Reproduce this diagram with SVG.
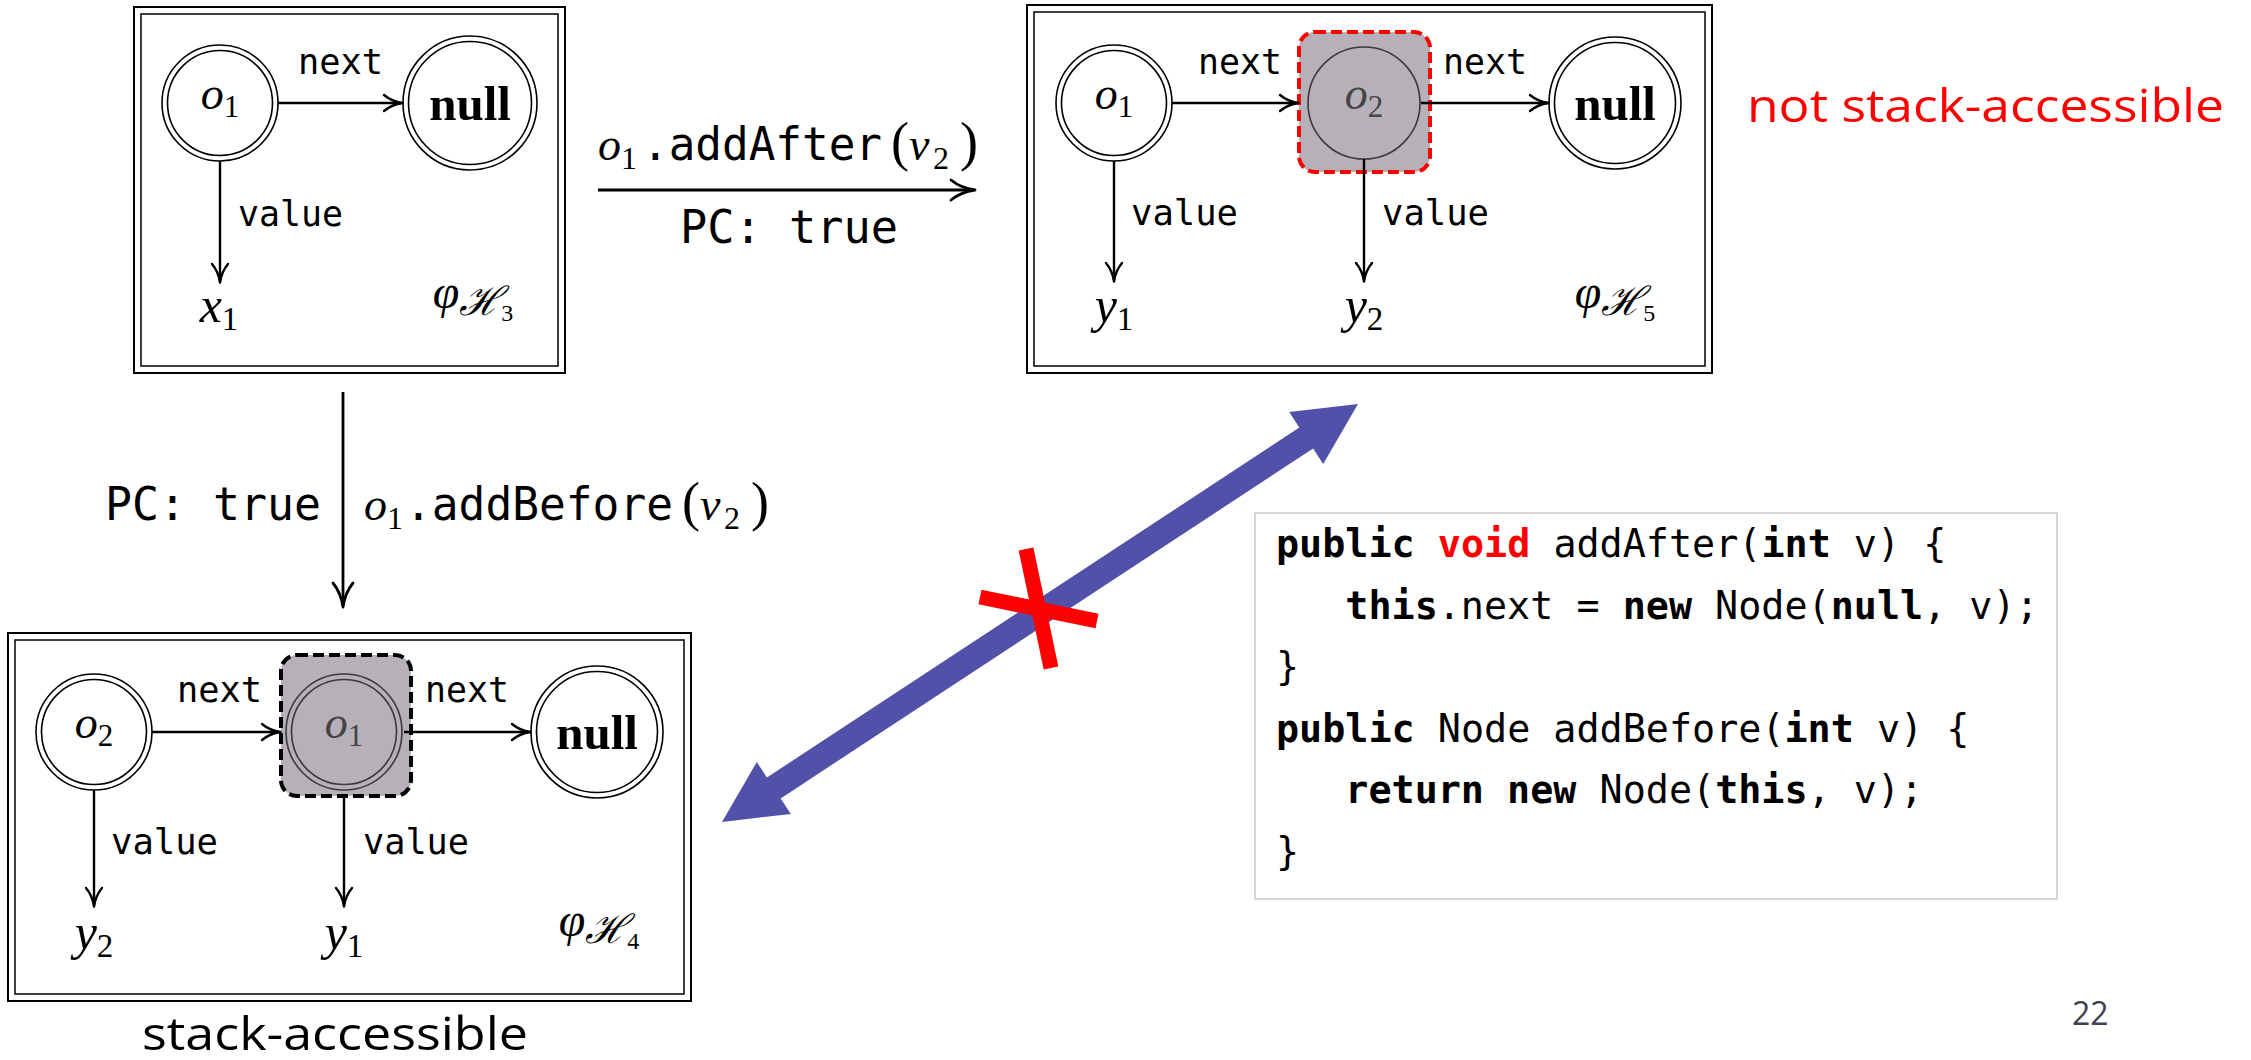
<svg xmlns="http://www.w3.org/2000/svg" width="2251" height="1060" viewBox="0 0 2251 1060">
<defs>
<style>
.frame{fill:none;stroke:#000;stroke-width:2}
.frame-in{fill:none;stroke:#000;stroke-width:1.5}
.ring{fill:none;stroke:#000;stroke-width:1.6}
.ring-dim{fill:none;stroke:#3a3a3a;stroke-width:1.6}
.hl{fill:#b6b0b8;stroke-width:4;stroke-dasharray:11 5}
.edge{fill:none;stroke:#000;stroke-width:2.4;marker-end:url(#tip)}
.step{fill:none;stroke:#000;stroke-width:2.8;marker-end:url(#tipL)}
.fld{font-family:"DejaVu Sans Mono",monospace;font-size:36px}
.tt{font-family:"DejaVu Sans Mono",monospace;font-size:46px}
.mi{font-family:"Liberation Serif",serif;font-style:italic}
.rm{font-family:"Liberation Serif",serif;font-style:normal}
.cal{font-family:"DejaVu Serif","Liberation Serif",serif;font-style:italic}
.null{font-family:"Liberation Serif",serif;font-weight:bold;font-size:49px;text-anchor:middle}
.var{text-anchor:middle}
.dim{fill:#444}
.note{font-family:"Open Sans",sans-serif;font-size:45px}
.code{font-family:"DejaVu Sans Mono",monospace;font-size:38.4px;white-space:pre}
.kw{font-weight:bold}
</style>
<marker id="tip" markerUnits="userSpaceOnUse" markerWidth="40" markerHeight="40" overflow="visible" orient="auto">
<path d="M-17,-8 C-11,-3 -4,-0.8 1.5,0 C-4,0.8 -11,3 -17,8" fill="none" stroke="#000" stroke-width="2.4" stroke-linecap="round" stroke-linejoin="round"/>
</marker>
<marker id="tipL" markerUnits="userSpaceOnUse" markerWidth="50" markerHeight="50" overflow="visible" orient="auto">
<path d="M-22,-10 C-14,-3.5 -5,-1 2,0 C-5,1 -14,3.5 -22,10" fill="none" stroke="#000" stroke-width="2.8" stroke-linecap="round" stroke-linejoin="round"/>
</marker>
</defs>

<rect width="2251" height="1060" fill="#fff"/>

<!-- heap H3 -->
<g id="heap-h3">
<rect class="frame" x="134" y="7" width="431" height="366"/>
<rect class="frame-in" x="141" y="14" width="417" height="352"/>
<g id="h3-o1">
<circle class="ring" cx="220" cy="103" r="58"/><circle class="ring" cx="220" cy="103" r="52.5"/>
<text class="mi var" x="220" y="109" font-size="46">o<tspan class="rm" font-size="31" dy="8">1</tspan></text>
</g>
<g id="h3-null">
<circle class="ring" cx="470" cy="103" r="67"/><circle class="ring" cx="470" cy="103" r="61.5"/>
<text class="null" x="470" y="120">null</text>
</g>
<g id="h3-x1"><text class="mi var" x="219" y="322" font-size="50">x<tspan class="rm" font-size="33" dy="8">1</tspan></text></g>
<g id="h3-name"><text class="mi var" x="473" y="308" font-size="48">φ<tspan class="cal" font-size="40" dy="7">ℋ</tspan><tspan class="rm" font-size="24" dy="6">3</tspan></text></g>
</g>

<!-- heap H5 -->
<g id="heap-h5">
<rect class="frame" x="1027" y="5" width="685" height="368"/>
<rect class="frame-in" x="1034" y="12" width="671" height="354"/>
<g id="h5-o1">
<circle class="ring" cx="1114" cy="103" r="58"/><circle class="ring" cx="1114" cy="103" r="52.5"/>
<text class="mi var" x="1114" y="109" font-size="46">o<tspan class="rm" font-size="31" dy="8">1</tspan></text>
</g>
<g id="h5-o2">
<rect class="hl" x="1299" y="32" width="131" height="140" rx="16" stroke="#f00"/>
<circle class="ring-dim" cx="1364" cy="103" r="56"/>
<text class="mi var dim" x="1364" y="109" font-size="46">o<tspan class="rm" font-size="31" dy="8">2</tspan></text>
</g>
<g id="h5-null">
<circle class="ring" cx="1615" cy="103" r="66"/><circle class="ring" cx="1615" cy="103" r="60.5"/>
<text class="null" x="1615" y="120">null</text>
</g>
<g id="h5-y1"><text class="mi var" x="1114" y="322" font-size="50">y<tspan class="rm" font-size="33" dy="8">1</tspan></text></g>
<g id="h5-y2"><text class="mi var" x="1364" y="322" font-size="50">y<tspan class="rm" font-size="33" dy="8">2</tspan></text></g>
<g id="h5-name"><text class="mi var" x="1615" y="308" font-size="48">φ<tspan class="cal" font-size="40" dy="7">ℋ</tspan><tspan class="rm" font-size="24" dy="6">5</tspan></text></g>
</g>

<!-- heap H4 -->
<g id="heap-h4">
<rect class="frame" x="8" y="633" width="683" height="368"/>
<rect class="frame-in" x="15" y="640" width="669" height="354"/>
<g id="h4-o2">
<circle class="ring" cx="94" cy="732" r="58"/><circle class="ring" cx="94" cy="732" r="52.5"/>
<text class="mi var" x="94" y="738" font-size="46">o<tspan class="rm" font-size="31" dy="8">2</tspan></text>
</g>
<g id="h4-o1">
<rect class="hl" x="281" y="655" width="130" height="141" rx="16" stroke="#000"/>
<circle class="ring-dim" cx="344" cy="732" r="58"/><circle class="ring-dim" cx="344" cy="732" r="52.5"/>
<text class="mi var dim" x="344" y="738" font-size="46">o<tspan class="rm" font-size="31" dy="8">1</tspan></text>
</g>
<g id="h4-null">
<circle class="ring" cx="597" cy="732" r="66"/><circle class="ring" cx="597" cy="732" r="60.5"/>
<text class="null" x="597" y="749">null</text>
</g>
<g id="h4-y2"><text class="mi var" x="94" y="949" font-size="50">y<tspan class="rm" font-size="33" dy="8">2</tspan></text></g>
<g id="h4-y1"><text class="mi var" x="344" y="949" font-size="50">y<tspan class="rm" font-size="33" dy="8">1</tspan></text></g>
<g id="h4-name"><text class="mi var" x="599" y="936" font-size="48">φ<tspan class="cal" font-size="40" dy="7">ℋ</tspan><tspan class="rm" font-size="24" dy="6">4</tspan></text></g>
</g>

<!-- source code -->
<g id="code">
<rect x="1255" y="513" width="802" height="386" fill="#fff" stroke="#d9d6d9" stroke-width="2"/>
<text class="code" x="1276" y="557"><tspan class="kw">public</tspan> <tspan class="kw" fill="#f00">void</tspan> addAfter(<tspan class="kw">int</tspan> v) {</text>
<text class="code" x="1345.3" y="618.5"><tspan class="kw">this</tspan>.next = <tspan class="kw">new</tspan> Node(<tspan class="kw">null</tspan>, v);</text>
<text class="code" x="1276" y="680">}</text>
<text class="code" x="1276" y="741.5"><tspan class="kw">public</tspan> Node addBefore(<tspan class="kw">int</tspan> v) {</text>
<text class="code" x="1345.3" y="803"><tspan class="kw">return</tspan> <tspan class="kw">new</tspan> Node(<tspan class="kw">this</tspan>, v);</text>
<text class="code" x="1276" y="864.5">}</text>
</g>

<!-- captions -->
<g id="captions">
<text class="note" x="1747" y="122" fill="#f00" textLength="477" lengthAdjust="spacingAndGlyphs">not stack-accessible</text>
<text class="note" x="142" y="1050" fill="#000" textLength="386" lengthAdjust="spacingAndGlyphs">stack-accessible</text>
<text x="2072" y="1025" font-family="Open Sans, sans-serif" font-size="32" fill="#404050">22</text>
</g>

<!-- connectors -->
<g id="connectors">
<!-- fields of H3 -->
<line class="edge" x1="278" y1="103" x2="401" y2="103"/>
<line class="edge" x1="220" y1="161" x2="220" y2="281"/>
<text class="fld" x="298" y="74" textLength="85" lengthAdjust="spacingAndGlyphs">next</text>
<text class="fld" x="238" y="226" textLength="105" lengthAdjust="spacingAndGlyphs">value</text>
<!-- fields of H5 -->
<line class="edge" x1="1172" y1="103" x2="1297" y2="103"/>
<line class="edge" x1="1421" y1="103" x2="1547" y2="103"/>
<line class="edge" x1="1114" y1="161" x2="1114" y2="280"/>
<line class="edge" x1="1364" y1="159" x2="1364" y2="280"/>
<text class="fld" x="1198" y="74" textLength="84" lengthAdjust="spacingAndGlyphs">next</text>
<text class="fld" x="1443" y="74" textLength="84" lengthAdjust="spacingAndGlyphs">next</text>
<text class="fld" x="1131" y="225" textLength="107" lengthAdjust="spacingAndGlyphs">value</text>
<text class="fld" x="1382" y="225" textLength="107" lengthAdjust="spacingAndGlyphs">value</text>
<!-- fields of H4 -->
<line class="edge" x1="152" y1="732" x2="279" y2="732"/>
<line class="edge" x1="404" y1="732" x2="529" y2="732"/>
<line class="edge" x1="94" y1="790" x2="94" y2="905"/>
<line class="edge" x1="344" y1="796" x2="344" y2="905"/>
<text class="fld" x="177" y="702" textLength="85" lengthAdjust="spacingAndGlyphs">next</text>
<text class="fld" x="425" y="702" textLength="84" lengthAdjust="spacingAndGlyphs">next</text>
<text class="fld" x="111" y="854" textLength="107" lengthAdjust="spacingAndGlyphs">value</text>
<text class="fld" x="363" y="854" textLength="106" lengthAdjust="spacingAndGlyphs">value</text>

<!-- H3 to H5: addAfter -->
<line class="step" x1="598" y1="190" x2="973" y2="190"/>
<text class="mi" x="598" y="160" font-size="46">o</text>
<text class="rm" x="621" y="169" font-size="32">1</text>
<text class="tt" x="642" y="160" textLength="240" lengthAdjust="spacingAndGlyphs">.addAfter</text>
<text class="rm" x="891" y="160" font-size="54">(</text>
<text class="mi" x="909" y="160" font-size="46">v</text>
<text class="rm" x="933" y="169" font-size="32">2</text>
<text class="rm" x="960" y="160" font-size="54">)</text>
<text class="tt" x="680" y="243" textLength="218" lengthAdjust="spacingAndGlyphs">PC: true</text>

<!-- H3 to H4: addBefore -->
<line class="step" x1="343" y1="392" x2="343" y2="605"/>
<text class="tt" x="105" y="520" textLength="216" lengthAdjust="spacingAndGlyphs">PC: true</text>
<text class="mi" x="364" y="520" font-size="46">o</text>
<text class="rm" x="387" y="529" font-size="32">1</text>
<text class="tt" x="405" y="520" textLength="268" lengthAdjust="spacingAndGlyphs">.addBefore</text>
<text class="rm" x="682" y="520" font-size="54">(</text>
<text class="mi" x="700" y="520" font-size="46">v</text>
<text class="rm" x="724" y="529" font-size="32">2</text>
<text class="rm" x="751" y="520" font-size="54">)</text>

<!-- H4 vs H5: not equivalent -->
<polygon points="1358,404 1323.2,464 1313.1,448.5 780.7,798.4 790.8,813.9 722,822 756.8,762 766.9,777.5 1299.3,427.6 1289.2,412.1" fill="#5151a9"/>
<line x1="1026" y1="549" x2="1051" y2="668" stroke="#f00" stroke-width="15"/>
<line x1="980" y1="597" x2="1097" y2="621" stroke="#f00" stroke-width="15"/>
</g>
</svg>
